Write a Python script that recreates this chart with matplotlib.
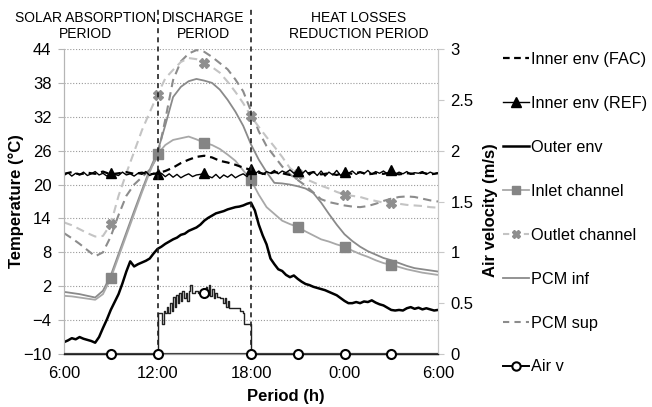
import numpy as np
import matplotlib
matplotlib.use("Agg")
import matplotlib.pyplot as plt
import matplotlib.transforms as mtransforms
from matplotlib.lines import Line2D

plt.rcParams['font.family'] = ['Liberation Sans', 'DejaVu Sans']

# ---------------- data ----------------
# time in hours (6 = 6:00 of day 1, 30 = 6:00 of day 2)
hours_fine = np.arange(6.0, 30.001, 0.25)   # 97 samples
hours_half = np.arange(6.0, 30.001, 0.5)    # 49 samples
marker_hours = [9, 12, 15, 18, 21, 24, 27]

x_tick_hours = [6, 12, 18, 24, 30]
x_tick_labels = ["6:00", "12:00", "18:00", "0:00", "6:00"]
temp_ticks = [-10, -4, 2, 8, 14, 20, 26, 32, 38, 44]
vel_ticks = [0, 0.5, 1, 1.5, 2, 2.5, 3]
vel_tick_labels = ["0", "0.5", "1", "1.5", "2", "2.5", "3"]
period_hours = [12, 18]
period_labels = ["SOLAR ABSORPTION\nPERIOD", "DISCHARGE\nPERIOD", "HEAT LOSSES\nREDUCTION PERIOD"]
period_label_hours = [7.35, 14.92, 24.93]

# Inner env (REF) - 0.25 h samples
inner_ref = [
    21.6, 22.1, 21.5, 22.0, 21.7, 22.2, 21.6, 21.9, 22.3, 21.7, 22.0, 21.5,
    22.1, 21.8, 21.6, 22.2, 21.7, 21.9, 21.5, 22.0, 21.8, 22.3, 21.6, 22.0, 21.8,
    22.0, 21.4, 21.9, 21.3, 21.8, 21.2, 21.6, 21.9, 21.4, 21.7, 21.8, 22.0,
    21.5, 21.2, 21.8, 21.1, 21.7, 21.3, 21.8, 21.2, 21.6, 21.9, 21.4, 22.7,
    21.9, 22.4, 21.8, 22.3, 22.0, 22.5, 21.9, 22.4, 22.1, 22.6, 22.0, 22.4,
    21.8, 22.5, 21.7, 22.3, 21.6, 22.4, 21.5, 22.2, 21.7, 22.5, 21.6, 22.3,
    22.0, 22.4, 21.8, 22.2, 21.9, 22.5, 21.8, 22.3, 22.0, 22.4, 21.9, 22.5,
    21.8, 22.2, 21.9, 22.3, 21.8, 22.1, 22.0, 22.3, 21.8, 22.2, 21.9, 22.1,
]

# Outer env - 0.25 h samples
outer_env = [
    -7.9,
    -7.6, -7.2, -7.4, -7.0,
    -7.3, -7.5, -7.7, -8.0,
    -7.0, -5.4, -3.9, -2.2,
    -0.8, 0.6, 2.5, 4.6,
    6.4, 5.5, 5.9, 6.2,
    6.5, 6.9, 7.8, 8.6,
    9.0, 9.5, 9.9, 10.3,
    10.6, 11.1, 11.3, 11.8,
    12.1, 12.4, 12.9, 13.6,
    14.1, 14.5, 14.9, 15.1,
    15.3, 15.6, 15.8, 16.0,
    16.1, 16.3, 16.6, 16.8,
    15.4, 12.9, 11.0, 9.4,
    6.9, 5.9, 5.0, 4.7,
    4.0, 3.6, 3.9, 3.3,
    2.8, 2.4, 2.2, 1.9,
    1.7, 1.5, 1.3, 1.0,
    0.7, 0.4, -0.1, -0.6,
    -1.0, -1.0, -0.8, -1.0,
    -0.7, -0.8, -0.5, -0.9,
    -1.2, -1.4, -1.8, -2.2,
    -2.3, -2.2, -2.3, -1.9,
    -1.7, -2.0, -1.8, -2.1,
    -1.9, -2.1, -2.3, -2.2,
]

# Inner env (FAC) - 0.5 h samples
inner_fac = [
    21.9, 22.2, 21.8, 22.1, 21.9, 22.3, 21.8, 22.0, 22.2, 21.9, 22.1, 21.8, 22.0,
    22.4, 23.0, 23.8, 24.4, 24.9, 25.1, 24.8, 24.2, 23.9, 23.5, 23.0, 22.6,
    22.1, 21.8, 22.2, 22.0, 21.7, 22.1, 21.9, 22.2, 21.8, 22.0, 21.7, 22.1,
    21.9, 22.2, 21.8, 22.0, 21.9, 22.1, 21.8, 22.0, 21.9, 22.1, 21.8, 22.0,
]

# Inlet channel - 0.5 h samples
inlet_channel = [
    0.3, 0.2, 0.0, -0.2, -0.4, 0.6, 3.4, 7.2, 11.0, 14.8, 18.6, 22.2,
    25.4, 27.0, 27.9, 28.2, 28.5, 28.0, 27.4, 27.0, 26.3, 25.3, 24.2, 22.5,
    20.8, 18.2, 16.0, 14.8, 13.6, 13.0, 12.5, 11.7, 11.0, 10.3, 9.9, 9.4,
    9.0, 8.3, 7.7, 7.2, 6.6, 6.1, 5.8, 5.4, 5.0, 4.7, 4.4, 4.2, 4.0,
]

# Outlet channel - 0.5 h samples
outlet_channel = [
    13.3, 12.8, 12.1, 11.4, 10.8, 10.9, 13.0, 18.0, 22.0, 25.8, 29.6, 32.8,
    35.9, 38.8, 40.3, 41.7, 42.4, 42.2, 41.5, 40.8, 39.8, 38.2, 36.4, 34.4,
    32.1, 30.2, 28.4, 26.7, 24.9, 22.9, 21.9, 21.0, 20.4, 19.8, 19.3, 18.7,
    18.2, 18.0, 17.8, 17.4, 17.1, 16.8, 16.7, 16.6, 16.4, 16.3, 16.2, 16.0, 15.9,
]

# PCM inf - 0.5 h samples
pcm_inf = [
    1.0, 0.8, 0.6, 0.3, 0.0, 1.2, 3.9, 7.7, 11.5, 15.3, 19.0, 22.6,
    25.8, 30.5, 35.5, 37.3, 38.3, 38.7, 38.4, 38.0, 36.8, 35.0, 32.9, 30.4,
    27.1, 24.4, 22.2, 20.3, 20.2, 20.0, 19.7, 19.3, 18.5, 16.8, 14.8, 12.9,
    11.2, 10.0, 9.0, 8.2, 7.6, 7.0, 6.6, 6.1, 5.6, 5.2, 5.0, 4.8, 4.6,
]

# PCM sup - 0.5 h samples
pcm_sup = [
    11.4, 10.5, 9.5, 8.4, 7.3, 8.0, 10.8, 14.6, 18.0, 20.0, 21.3, 22.6,
    25.0, 31.5, 38.5, 41.8, 43.2, 43.8, 43.5, 42.6, 41.5, 40.4, 38.6, 36.5,
    33.0, 29.4, 26.8, 25.0, 23.2, 21.8, 20.8, 19.8, 18.6, 17.4, 16.9, 16.6,
    16.3, 16.1, 16.0, 16.2, 16.6, 17.1, 17.5, 17.8, 17.9, 17.8, 17.5, 17.2, 17.0,
]

# Air velocity (m/s)
air_hours = [6.0, 9.0,
             12.0, 12.02, 12.2, 12.3, 12.4, 12.5, 12.6, 12.7, 12.8, 12.9, 13.0, 13.1,
             13.2, 13.3, 13.4, 13.5, 13.6, 13.7, 13.8, 13.9, 14.0, 14.1, 14.2, 14.4,
             14.6, 14.8, 15.0, 15.1, 15.2, 15.3, 15.4, 15.5, 15.6, 15.7, 15.8, 16.0,
             16.2, 16.3, 16.4, 16.5, 16.6, 16.8, 17.0, 17.3, 17.5, 17.55, 17.8, 17.95, 18.0,
             21.0, 24.0, 27.0, 30.0]
air_v = [0.0, 0.0,
         0.0, 0.40, 0.40, 0.30, 0.42, 0.40, 0.46, 0.40, 0.50, 0.42, 0.56, 0.46,
         0.58, 0.50, 0.60, 0.52, 0.62, 0.55, 0.60, 0.52, 0.62, 0.68, 0.60, 0.62,
         0.60, 0.60, 0.60, 0.66, 0.58, 0.68, 0.57, 0.64, 0.55, 0.60, 0.56, 0.55,
         0.50, 0.55, 0.46, 0.52, 0.45, 0.45, 0.45, 0.42, 0.40, 0.30, 0.30, 0.30, 0.0,
         0.0, 0.0, 0.0, 0.0]

# ---------------- styles ----------------
c_inlet = '#a8a8a8'
c_inlet_mk = '#858585'
c_outlet = '#c4c4c4'
c_outlet_mk = '#8f8f8f'
c_pcm_inf = '#8a8a8a'
c_pcm_sup = '#8c8c8c'

fig = plt.figure(figsize=(6.52, 4.07), dpi=100)
ax = fig.add_axes([64 / 652, 1 - 354 / 407, 374 / 652, 305 / 407])
ax2 = ax.twinx()


def mask(h):
    return np.isin(np.round(np.asarray(h), 3), marker_hours)


hf = hours_fine
hh = hours_half

ax.plot(hh, pcm_sup, color=c_pcm_sup, lw=1.5, ls=(0, (4, 2.5)), zorder=2)
ax.plot(hh, outlet_channel, color=c_outlet, lw=1.5, ls=(0, (4, 2.5)), zorder=2,
        marker='X', markevery=list(np.where(mask(hh))[0]), ms=7,
        mfc=c_outlet_mk, mec=c_outlet_mk)
ax.plot(hh, pcm_inf, color=c_pcm_inf, lw=1.3, zorder=3)
ax.plot(hh, inlet_channel, color=c_inlet, lw=1.3, zorder=3,
        marker='s', markevery=list(np.where(mask(hh))[0]), ms=7,
        mfc=c_inlet_mk, mec=c_inlet_mk)
ax.plot(hh, inner_fac, color='black', lw=1.6, ls=(0, (3.5, 2.2)), zorder=4)
ax.plot(hf, inner_ref, color='black', lw=1.0, zorder=5,
        marker='^', markevery=list(np.where(mask(hf))[0]), ms=7,
        mfc='black', mec='black')
ax.plot(hf, outer_env, color='black', lw=1.8, zorder=5)

ax2.plot(air_hours, air_v, color='#222222', lw=1.0, drawstyle='steps-post',
         marker='o', markevery=list(np.where(mask(air_hours))[0]), ms=6.5,
         mfc='white', mec='black', mew=1.5, zorder=6, clip_on=False)
ax2.axhline(0, color='#444444', lw=1.6, zorder=5)

# axes
ax.set_xlim(6, 30)
ax.set_ylim(-10, 44)
ax2.set_ylim(0, 3)
ax.set_xticks(x_tick_hours)
ax.set_xticklabels(x_tick_labels)
ax.set_yticks(temp_ticks)
ax2.set_yticks(vel_ticks)
ax2.set_yticklabels(vel_tick_labels)

ax.grid(axis='y', color='#9a9a9a', ls=(0, (1, 1.6)), lw=0.8)
ax.set_axisbelow(True)
for a in (ax, ax2):
    a.spines['top'].set_visible(False)
    a.spines['left'].set_color('#b5b5b5')
    a.spines['right'].set_color('#c8c8c8')
    a.spines['bottom'].set_color('#999999')
ax.tick_params(axis='x', length=0, pad=9, labelsize=12)
ax.tick_params(axis='y', length=4, color='#b5b5b5', pad=5, labelsize=12)
ax2.tick_params(axis='y', length=4, color='#c8c8c8', pad=5, labelsize=12)

# period dividers
for ph in period_hours:
    ax.axvline(ph, ymin=0, ymax=(354 - 8) / 305, color='#222222', lw=1.2,
               ls=(0, (3, 2.5)), clip_on=False, zorder=7)

trans = mtransforms.blended_transform_factory(ax.transData, ax.transAxes)
for lbl, lh in zip(period_labels, period_label_hours):
    ax.text(lh, (354 - 26) / 305, lbl, transform=trans, ha='center', va='center',
            fontsize=10, linespacing=1.15, multialignment='center')

fig.text(16 / 652, 1 - 201 / 407, "Temperature (°C)", rotation=90, ha='center',
         va='center', fontsize=12, fontweight='bold')
fig.text(490 / 652, 1 - 210 / 407, "Air velocity (m/s)", rotation=90, ha='center',
         va='center', fontsize=12, fontweight='bold')
fig.text(286 / 652, 1 - 397 / 407, "Period (h)", ha='center', va='center',
         fontsize=12, fontweight='bold')

# legend (proxy handles)
handles = [
    Line2D([], [], color='black', lw=1.6, ls=(0, (3, 2))),
    Line2D([], [], color='black', lw=1.0, marker='^', ms=7),
    Line2D([], [], color='black', lw=1.8),
    Line2D([], [], color=c_inlet, lw=1.3, marker='s', ms=6, mfc=c_inlet_mk, mec=c_inlet_mk),
    Line2D([], [], color=c_outlet, lw=1.5, ls=(0, (3, 2)), marker='X', ms=6,
           mfc=c_outlet_mk, mec=c_outlet_mk),
    Line2D([], [], color=c_pcm_inf, lw=1.3),
    Line2D([], [], color=c_pcm_sup, lw=1.5, ls=(0, (3, 2.5))),
    Line2D([], [], color='black', lw=1.4, marker='o', ms=6, mfc='white', mew=1.5),
]
labels = ["Inner env (FAC)", "Inner env (REF)", "Outer env", "Inlet channel",
          "Outlet channel", "PCM inf", "PCM sup", "Air v"]
fig.legend(handles, labels, loc='upper left', bbox_to_anchor=(503 / 652, 1 - 52 / 407),
           frameon=False, fontsize=11.7, handlelength=1.6, handletextpad=0.12,
           labelspacing=1.78, borderpad=0, borderaxespad=0)

fig.savefig("out.png", dpi=100)
